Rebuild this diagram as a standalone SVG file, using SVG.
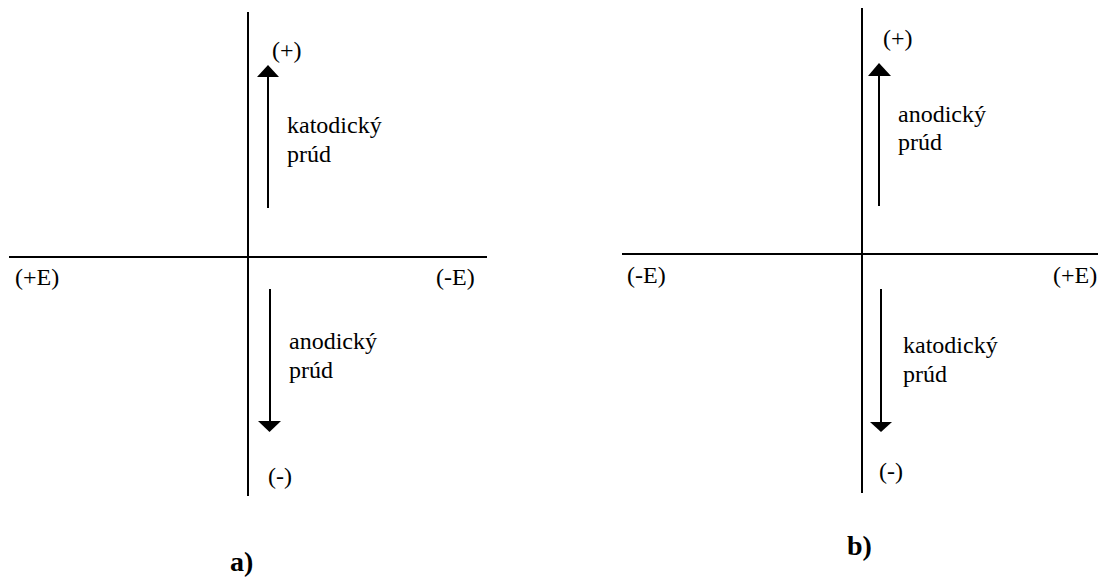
<svg xmlns="http://www.w3.org/2000/svg" width="1098" height="578" viewBox="0 0 1098 578">
<style>
.ax{stroke:#000;stroke-width:2;fill:none}
.sh{stroke:#000;stroke-width:2;fill:none}
.hd{fill:#000;stroke:none}
text{font-family:"Liberation Serif","Times New Roman",serif;font-size:24px;fill:#000}
.cap{font-weight:bold;font-size:28px}
</style>
<rect width="1098" height="578" fill="#fff"/>
<g id="panel-a">
  <g id="a-axes">
    <line class="ax" x1="248" y1="12" x2="248" y2="496"/>
    <line class="ax" x1="9" y1="257" x2="487" y2="257"/>
  </g>
  <g id="a-labels">
    <text x="15" y="285">(+E)</text>
    <text x="436" y="285">(-E)</text>
    <text x="272" y="58">(+)</text>
    <text x="268" y="484">(-)</text>
  </g>
  <g id="a-up">
    <line class="sh" x1="268" y1="208" x2="268" y2="76"/>
    <polygon class="hd" points="268,65 257,77 279,77"/>
    <text x="287" y="133">katodický</text>
    <text x="287" y="162">prúd</text>
  </g>
  <g id="a-down">
    <line class="sh" x1="270" y1="289" x2="270" y2="422"/>
    <polygon class="hd" points="258,421 281,421 269.5,432"/>
    <text x="289" y="349">anodický</text>
    <text x="289" y="378">prúd</text>
  </g>
  <text class="cap" x="230" y="571">a)</text>
</g>
<g id="panel-b">
  <g id="b-axes">
    <line class="ax" x1="862" y1="8" x2="862" y2="493"/>
    <line class="ax" x1="622" y1="254" x2="1098" y2="254"/>
  </g>
  <g id="b-labels">
    <text x="627" y="283">(-E)</text>
    <text x="1053" y="283">(+E)</text>
    <text x="883" y="46">(+)</text>
    <text x="879" y="479">(-)</text>
  </g>
  <g id="b-up">
    <line class="sh" x1="879" y1="206" x2="879" y2="75"/>
    <polygon class="hd" points="879,63 868,76 891,76"/>
    <text x="898" y="122">anodický</text>
    <text x="898" y="150">prúd</text>
  </g>
  <g id="b-down">
    <line class="sh" x1="881" y1="289" x2="881" y2="423"/>
    <polygon class="hd" points="870,422 892,422 881,432"/>
    <text x="903" y="353">katodický</text>
    <text x="903" y="382">prúd</text>
  </g>
  <text class="cap" x="847" y="555">b)</text>
</g>
</svg>
